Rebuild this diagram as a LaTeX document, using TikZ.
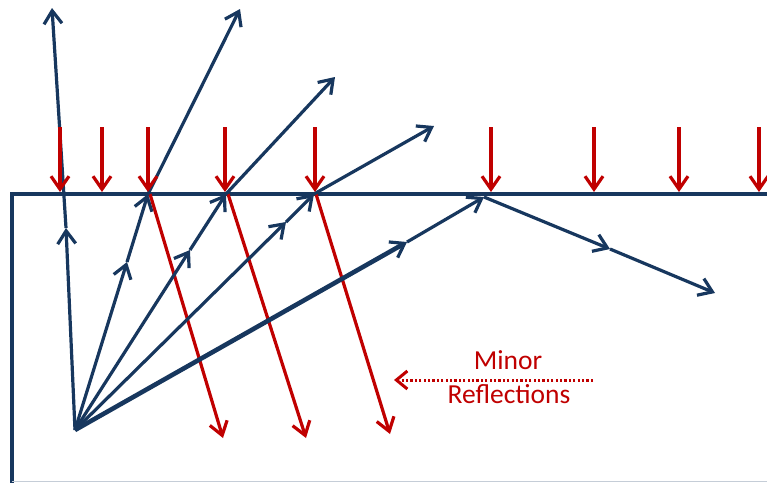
\documentclass[tikz,border=0pt]{standalone}
\usepackage{fontspec}
\setmainfont{Carlito}
\usetikzlibrary{arrows.meta}
\definecolor{navy}{HTML}{17375E}
\definecolor{dred}{HTML}{C00000}
\tikzset{
  tip/.style={-{Straight Barb[length=13pt,width=18pt,line width=3.2pt]}},
  ray/.style={draw=navy, line width=3.2pt},
  rayarr/.style={ray, tip},
  redarr/.style={draw=dred, line width=3.2pt, tip},
  lbl/.style={text=dred, font=\fontsize{27.5}{30}\selectfont, inner sep=0pt, anchor=base},
}
\begin{document}
\begin{tikzpicture}[x=1pt,y=-1pt]
\useasboundingbox (0,0) rectangle (767,483);
% box
\draw[draw=navy, line width=3.2pt] (767,194) -- (12,194) -- (12,483);
\draw[draw=navy!25, line width=1.4pt] (12,481.5) -- (767,481.5);
% coordinates
\coordinate (S) at (75,430);
\coordinate (M1) at (66,228); \coordinate (E1) at (52,8);
\coordinate (M2) at (127,262); \coordinate (P2) at (148,194); \coordinate (E2) at (240,9);
\coordinate (M3) at (190,250); \coordinate (P3) at (226,194); \coordinate (E3) at (335,77);
\coordinate (M4) at (286,222); \coordinate (P4) at (314,194); \coordinate (E4) at (434,126);
\coordinate (M5) at (407,242); \coordinate (P5) at (484,197);
\coordinate (M6) at (610,249); \coordinate (E6) at (715,293);
% red reflections
\coordinate (R2) at (223,438); \coordinate (R3) at (306,438); \coordinate (R4) at (390,434);
\draw[redarr] ([xshift=2pt]P2) -- (R2);
\draw[redarr] ([xshift=2pt]P3) -- (R3);
\draw[redarr] ([xshift=2pt]P4) -- (R4);
% rays
\draw[rayarr] (S) -- (M1);
\draw[rayarr] (M1) -- (E1);
\draw[rayarr] (S) -- (M2);
\draw[rayarr] (M2) -- (P2);
\draw[rayarr] (P2) -- (E2);
\draw[rayarr] (S) -- (M3);
\draw[rayarr] (M3) -- (P3);
\draw[rayarr] (P3) -- (E3);
\draw[rayarr] (S) -- (M4);
\draw[rayarr] (M4) -- (P4);
\draw[rayarr] (P4) -- (E4);
\draw[ray, line width=4.6pt, tip] (S) -- (M5);
\draw[rayarr] (M5) -- (P5);
\draw[rayarr] (P5) -- (M6);
\draw[rayarr] (M6) -- (E6);
% incident red arrows
\foreach \x/\n in {60/a,102/b,148/c,225/d,315/e,491/f,594/g,679/h,759/i}{
  \coordinate (T\n) at (\x,127); \coordinate (B\n) at (\x,192);
  \draw[redarr] (T\n) -- (B\n);
}
% label
\node[lbl] (minor) at (508,369) {Minor};
\node[lbl] (refl) at (509,403) {Reflections};
\coordinate (D1) at (593,380); \coordinate (D2) at (394,380);
\draw[draw=dred, line width=3pt, dash pattern=on 2.2pt off 2.2pt, -{Straight Barb[length=11pt,width=18pt,line width=3pt]}] (D1) -- (D2);
\end{tikzpicture}
\end{document}
